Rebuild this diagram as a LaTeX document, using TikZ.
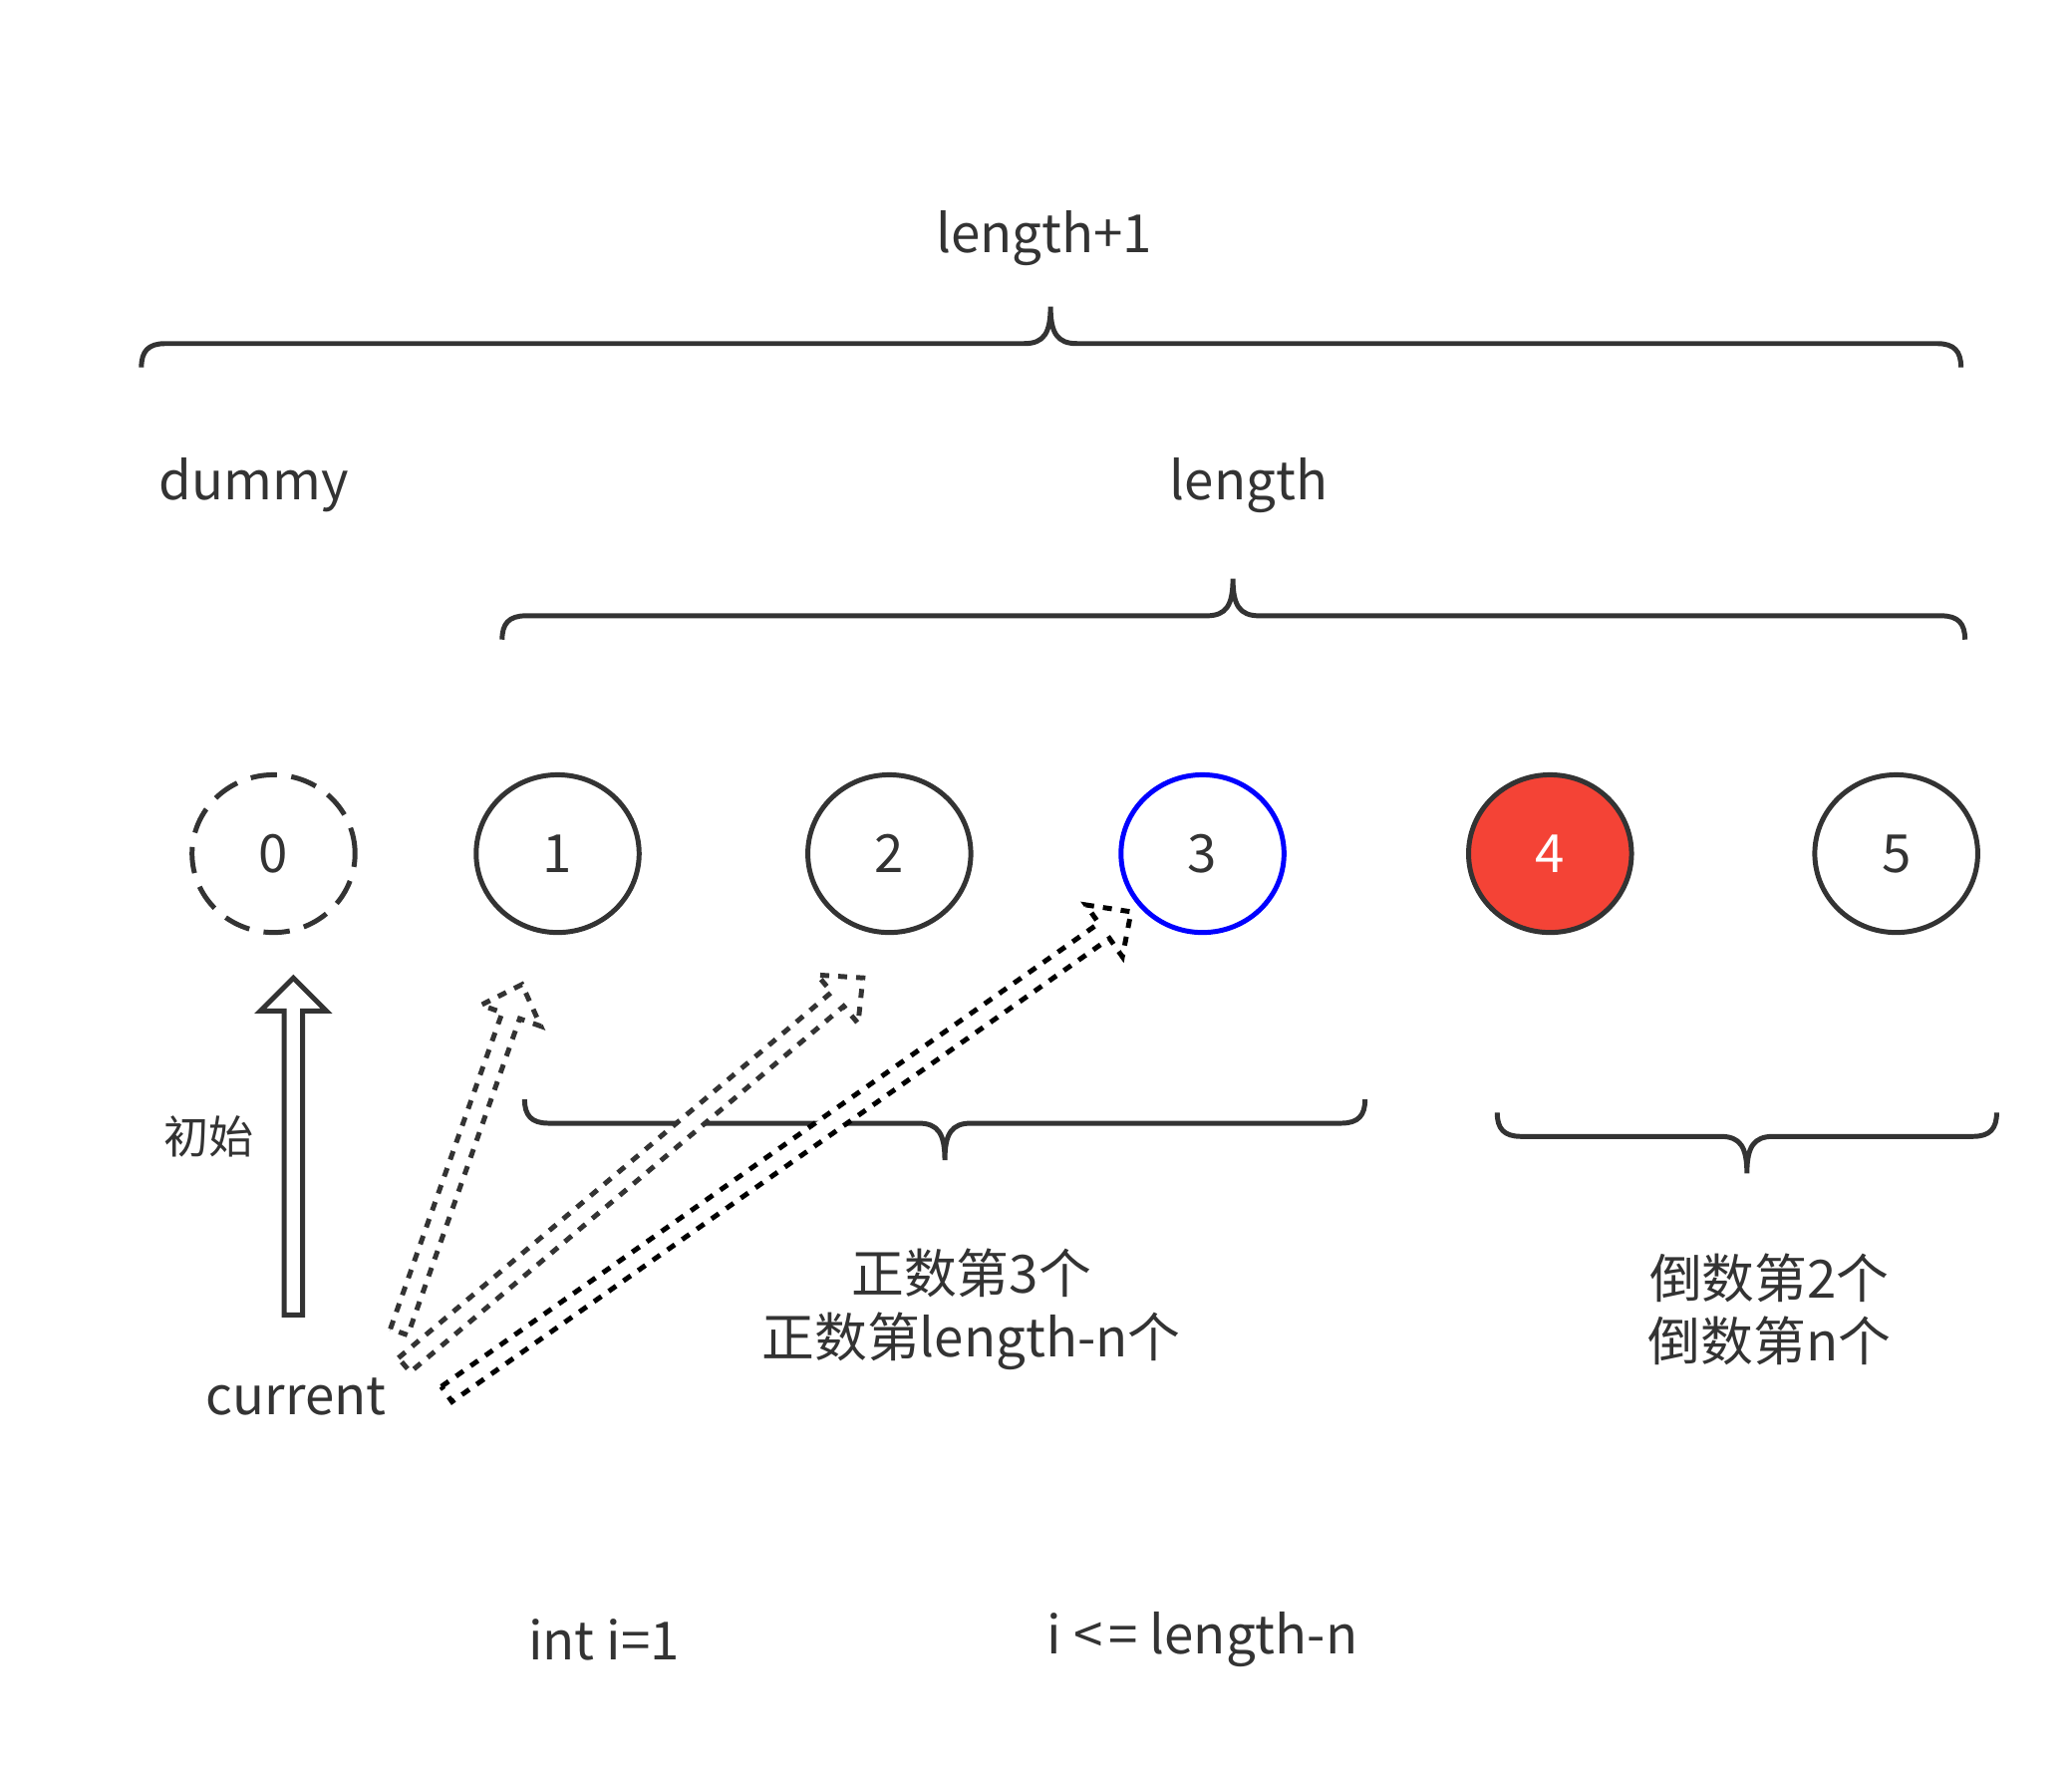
\documentclass[tikz,border=0pt]{standalone}
\usepackage{fontspec}
\setmainfont{Noto Sans CJK SC}
\usetikzlibrary{shapes.geometric,calc}
\definecolor{ink}{HTML}{333333}
\definecolor{nodered}{HTML}{F44336}
\definecolor{nodeblue}{HTML}{0000FF}

\tikzset{
  txt/.style={text=ink, inner sep=0pt, font=\fontsize{17}{20.4}\selectfont},
  listnode/.style={ellipse, draw=ink, line width=1.6pt, inner sep=0pt,
    minimum width=1.85cm, minimum height=1.79cm, txt},
  curly line/.style={draw=ink, line width=1.6pt},
  moveptr/.style={line width=1.6pt, fill=white, dash pattern=on 2.9pt off 2.9pt, line join=miter},
}

% curly brace: x1, x2, x of tip, y of line, +1 tip up / -1 tip down
\newcommand{\curly}[5]{%
  \draw[curly line] ({#1},{#4+18*(#5)}) .. controls ({#1},{#4+6*(#5)}) and ({#1+5},{#4}) .. ({#1+18},{#4})
    -- ({#3-20},{#4}) .. controls ({#3-5},{#4}) and ({#3},{#4-8*(#5)}) .. ({#3},{#4-28*(#5)})
    .. controls ({#3},{#4-8*(#5)}) and ({#3+5},{#4}) .. ({#3+20},{#4})
    -- ({#2-18},{#4}) .. controls ({#2-5},{#4}) and ({#2},{#4+6*(#5)}) .. ({#2},{#4+18*(#5)});}

% hollow arrow: style, tail, tip, shaft half width, head half width, head length
\newcommand{\fatarrow}[6]{%
  \coordinate (neck) at ($(#3)!#6!(#2)$);
  \draw[#1] ($(#2)!#4!90:(#3)$) -- ($(neck)!#4!-90:(#2)$) -- ($(neck)!#5!-90:(#2)$) -- (#3)
    -- ($(neck)!#5!90:(#2)$) -- ($(neck)!#4!90:(#2)$) -- ($(#2)!#4!-90:(#3)$) -- cycle;}

\begin{document}
\begin{tikzpicture}[x=0.015cm, y=-0.015cm]
  \useasboundingbox (0,0) rectangle (1568,1342);

  % labels of the braces
  \node[txt] (lenall) at (790,180) {length+1};
  \node[txt] (dummy) at (192,367) {dummy};
  \node[txt] (lenlabel) at (945,367) {length};
  \curly{107}{1484}{795}{260}{1}
  \curly{380}{1487}{933}{466}{1}

  % list nodes
  \node[listnode, dash pattern=on 8.5pt off 4.7pt] (n0) at (207,646) {0};
  \node[listnode] (n1) at (422,646) {1};
  \node[listnode] (n2) at (673,646) {2};
  \node[listnode, draw=nodeblue] (n3) at (910,646) {3};
  \node[listnode, fill=nodered, text=white] (n4) at (1173,646) {4};
  \node[listnode] (n5) at (1435,646) {5};

  % lower braces
  \curly{397}{1033}{715}{850}{-1}
  \curly{1133}{1511}{1322}{860}{-1}
  \node[txt, align=center] (fwd) at (735,991) {正数第3个\\正数第length-n个};
  \node[txt, align=center] (bwd) at (1339,991) {倒数第2个\\倒数第n个};

  % current pointer
  \node[txt] (current) at (224,1057) {current};
  \node[txt, font=\fontsize{14.5}{17}\selectfont] (init) at (158,860) {初始};
  \coordinate (initTail) at (222,995);
  \coordinate (initTip) at (222,740);
  \fatarrow{draw=ink, line width=1.6pt, fill=white}{initTail}{initTip}{0.105cm}{0.375cm}{0.375cm}

  % moves of current
  \coordinate (tailA) at (302,1008);
  \coordinate (tipA) at (395,745);
  \coordinate (tailB) at (306,1033);
  \coordinate (tipB) at (653,740);
  \coordinate (tailC) at (338,1055);
  \coordinate (tipC) at (856,690);
  \fatarrow{moveptr, draw=ink}{tailA}{tipA}{0.105cm}{0.36cm}{0.375cm}
  \fatarrow{moveptr, draw=ink}{tailB}{tipB}{0.105cm}{0.36cm}{0.375cm}
  \fatarrow{moveptr, draw=black}{tailC}{tipC}{0.105cm}{0.36cm}{0.375cm}

  % loop bounds
  \node[txt] (initcode) at (457,1241) {int i=1};
  \node[txt] (loopcode) at (910,1241) {i <\kern2pt= length-n};
\end{tikzpicture}
\end{document}
